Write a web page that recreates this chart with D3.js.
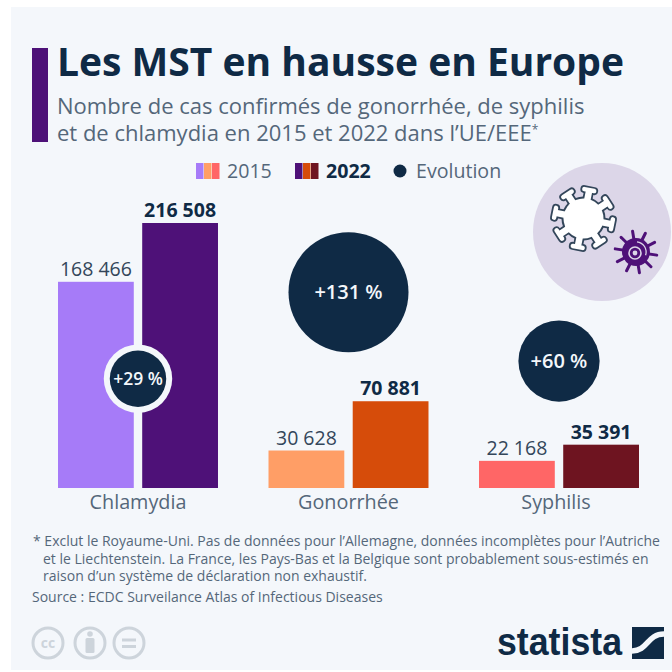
<!DOCTYPE html>
<html lang="fr">
<head>
<meta charset="utf-8">
<script src="https://cdn.jsdelivr.net/npm/d3@7"></script>
<style>
  html, body { margin: 0; padding: 0; background: #fff; }
  text { font-family: "Open Sans", sans-serif; }
</style>
</head>
<body>
<div id="chart"></div>
<script>
/* DATA */
const categories = ["Chlamydia", "Gonorrhée", "Syphilis"];
const years = ["2015", "2022"];
const values2015 = [168466, 30628, 22168];
const values2022 = [216508, 70881, 35391];
const evolution = [29, 131, 60];
const colors2015 = ["#a67bf8", "#ff9e66", "#ff6666"];
const colors2022 = ["#4e1178", "#d64c0a", "#6e1420"];
const footnotes = [
  "* Exclut le Royaume-Uni. Pas de données pour l’Allemagne, données incomplètes pour l’Autriche",
  "et le Liechtenstein. La France, les Pays-Bas et la Belgique sont probablement sous-estimés en",
  "raison d’un système de déclaration non exhaustif."
];

const navy = "#0f2a45";
const grey = "#54677a";
const bg = "#f4f7fb";
const frenchNum = n => String(n).replace(/\B(?=(\d{3})+$)/g, " ");

const svg = d3.select("#chart").append("svg")
  .attr("width", 672).attr("height", 672)
  .style("display", "block");

svg.append("rect").attr("x", 11).attr("y", 7).attr("width", 661).attr("height", 663).attr("fill", bg);

/* HEADER */
svg.append("rect").attr("x", 32).attr("y", 48).attr("width", 16).attr("height", 94).attr("fill", "#4e1178");
svg.append("text").attr("x", 57).attr("y", 76).attr("font-size", 39).attr("font-weight", 700)
  .attr("fill", navy).text("Les MST en hausse en Europe");
svg.append("text").attr("x", 57).attr("y", 114).attr("font-size", 22).attr("fill", grey)
  .text("Nombre de cas confirmés de gonorrhée, de syphilis");
const sub2 = svg.append("text").attr("x", 57).attr("y", 141).attr("font-size", 22).attr("fill", grey)
  .text("et de chlamydia en 2015 et 2022 dans l’UE/EEE");
sub2.append("tspan").attr("font-size", 12).attr("dy", -7).text("*");

/* SCALES */
const x0 = d3.scaleBand().domain(categories).range([58, 639]).paddingInner(0.24);
const x1 = d3.scaleBand().domain(years).range([0, x0.bandwidth()]).paddingInner(0.1);
const y = d3.scaleLinear().domain([0, 216508]).range([488, 223]);
const r = d3.scaleSqrt().domain([0, 131]).range([0, 60]);

/* BARS */
const rows = categories.map((c, i) => ({
  c, i, v15: values2015[i], v22: values2022[i], evo: evolution[i]
}));

const groups = svg.selectAll(".group").data(rows).join("g")
  .attr("class", "group")
  .attr("transform", d => `translate(${x0(d.c)},0)`);

const mid = x0.bandwidth() / 2;

groups.append("rect")
  .attr("x", x1("2015")).attr("width", x1.bandwidth())
  .attr("y", d => y(d.v15)).attr("height", d => y(0) - y(d.v15))
  .attr("fill", d => colors2015[d.i]);
groups.append("rect")
  .attr("x", x1("2022")).attr("width", x1.bandwidth())
  .attr("y", d => y(d.v22)).attr("height", d => y(0) - y(d.v22))
  .attr("fill", d => colors2022[d.i]);

groups.append("text")
  .attr("x", x1("2015") + x1.bandwidth() / 2).attr("y", d => y(d.v15) - 6)
  .attr("text-anchor", "middle").attr("font-size", 19.5).attr("fill", "#33465a")
  .text(d => frenchNum(d.v15));
groups.append("text")
  .attr("x", x1("2022") + x1.bandwidth() / 2).attr("y", d => y(d.v22) - 6)
  .attr("text-anchor", "middle").attr("font-size", 19.5).attr("font-weight", 700).attr("fill", navy)
  .text(d => frenchNum(d.v22));

groups.append("text")
  .attr("x", d => d.i === 2 ? mid - 3 : mid).attr("y", 509)
  .attr("text-anchor", "middle").attr("font-size", 19.8).attr("fill", grey)
  .text(d => d.c);

/* EVOLUTION BUBBLES */
// chlamydia sits on the bars, the other two float above their labels
const bubbleY = d => d.i === 0 ? y(d.v15 * 0.53) : y(d.v22) - (d.i === 1 ? 49 : 43) - r(d.evo);
groups.filter(d => d.i === 0).append("circle")
  .attr("cx", mid).attr("cy", bubbleY)
  .attr("r", d => r(d.evo) + 6)
  .attr("fill", bg);
groups.append("circle")
  .attr("cx", mid).attr("cy", bubbleY)
  .attr("r", d => r(d.evo))
  .attr("fill", navy);
groups.append("text")
  .attr("x", mid).attr("y", d => bubbleY(d) + 6.5)
  .attr("text-anchor", "middle").attr("font-size", d => d.i === 0 ? 17.5 : 20).attr("font-weight", 600)
  .attr("fill", bg)
  .text(d => `+${d.evo} %`);

/* LEGEND */
const swatch = d3.scaleBand().domain(d3.range(3)).range([0, 24]);
[[196, colors2015], [295, colors2022]].forEach(([lx, cols]) => {
  svg.append("g").attr("transform", `translate(${lx},163)`)
    .selectAll("rect").data(cols).join("rect")
    .attr("x", (d, i) => swatch(i)).attr("width", swatch.bandwidth() - 0.5)
    .attr("height", 16).attr("fill", d => d);
});
svg.append("text").attr("x", 227).attr("y", 178).attr("font-size", 19.6).attr("fill", grey).text(years[0]);
svg.append("text").attr("x", 326).attr("y", 178).attr("font-size", 19.6).attr("font-weight", 700).attr("fill", navy).text(years[1]);
svg.append("circle").attr("cx", 400).attr("cy", 171).attr("r", 6.5).attr("fill", navy);
svg.append("text").attr("x", 416).attr("y", 178).attr("font-size", 19.6).attr("fill", grey).text("Evolution");

/* ICON */
svg.append("circle").attr("cx", 602).attr("cy", 232).attr("r", 69).attr("fill", "#dcd6e8");

// big outlined virus: ring of eight knobs, dark pass then white pass on top
const knobs = d3.range(8).map(i => i * Math.PI / 4 + 0.2);
const virus = svg.append("g").attr("transform", "translate(583.5,218.5)");
function virusPass(color, stem, cap, body) {
  virus.append("g").selectAll("line").data(knobs).join("line")
    .attr("x2", a => 27 * Math.cos(a)).attr("y2", a => 27 * Math.sin(a))
    .attr("stroke", color).attr("stroke-width", stem).attr("stroke-linecap", "round");
  virus.append("g").selectAll("line").data(knobs).join("line")
    .attr("x1", a => 29 * Math.cos(a) - 5 * Math.sin(a)).attr("y1", a => 29 * Math.sin(a) + 5 * Math.cos(a))
    .attr("x2", a => 29 * Math.cos(a) + 5 * Math.sin(a)).attr("y2", a => 29 * Math.sin(a) - 5 * Math.cos(a))
    .attr("stroke", color).attr("stroke-width", cap).attr("stroke-linecap", "round");
  virus.append("circle").attr("r", body).attr("fill", color);
}
virusPass("#33465a", 10, 8, 22);
virusPass("#fff", 6.5, 4.5, 20);

// small purple germ
const germ = svg.append("g").attr("transform", "translate(636,252)");
germ.selectAll("line").data(d3.range(10).map(i => i * Math.PI / 5 + 0.15)).join("line")
  .attr("x2", a => 21 * Math.cos(a)).attr("y2", a => 21 * Math.sin(a))
  .attr("stroke", "#4e1178").attr("stroke-width", 3).attr("stroke-linecap", "round");
germ.append("circle").attr("r", 14).attr("fill", "#4e1178");
germ.append("circle").attr("cx", -1).attr("cy", 1).attr("r", 6).attr("fill", "none").attr("stroke", "#dcd6e8").attr("stroke-width", 1.6);
germ.append("circle").attr("cx", -1).attr("cy", 1).attr("r", 2.4).attr("fill", "#dcd6e8");
germ.append("path").attr("d", d3.arc()({ innerRadius: 9.5, outerRadius: 10.8, startAngle: 0.1, endAngle: 1.9 })).attr("fill", "#dcd6e8");

/* FOOTER */
svg.selectAll(".note").data(footnotes).join("text")
  .attr("class", "note")
  .attr("x", (d, i) => i === 0 ? 33 : 43)
  .attr("y", (d, i) => 546 + i * 17.5)
  .attr("font-size", 14).attr("fill", grey)
  .text(d => d);
svg.append("text").attr("x", 32).attr("y", 602).attr("font-size", 14).attr("fill", grey)
  .text("Source : ECDC Surveilance Atlas of Infectious Diseases");

const ccColor = "#cdd4db";
[48, 90, 129].forEach(cx => {
  svg.append("circle").attr("cx", cx).attr("cy", 643).attr("r", 15).attr("fill", "none")
    .attr("stroke", ccColor).attr("stroke-width", 3);
});
svg.append("text").attr("x", 48).attr("y", 648).attr("text-anchor", "middle")
  .attr("font-size", 14).attr("font-weight", 700).attr("fill", ccColor).text("cc");
svg.append("circle").attr("cx", 90).attr("cy", 634).attr("r", 2.8).attr("fill", ccColor);
svg.append("rect").attr("x", 85.5).attr("y", 638).attr("width", 9).attr("height", 15).attr("rx", 1.5).attr("fill", ccColor);
svg.append("rect").attr("x", 122).attr("y", 638.5).attr("width", 14).attr("height", 3).attr("fill", ccColor);
svg.append("rect").attr("x", 122).attr("y", 645).attr("width", 14).attr("height", 3).attr("fill", ccColor);

svg.append("text").attr("x", 497).attr("y", 655)
  .style("font-family", "'Liberation Sans', sans-serif")
  .attr("font-size", 39).attr("font-weight", 700).attr("fill", navy)
  .attr("textLength", 125).attr("lengthAdjust", "spacingAndGlyphs")
  .text("statista");
svg.append("rect").attr("x", 632).attr("y", 627).attr("width", 32).attr("height", 32).attr("fill", navy);
svg.append("path")
  .attr("d", "M632,651 C648,651 647,634 664,634")
  .attr("fill", "none").attr("stroke", bg).attr("stroke-width", 5.5);
</script>
</body>
</html>
